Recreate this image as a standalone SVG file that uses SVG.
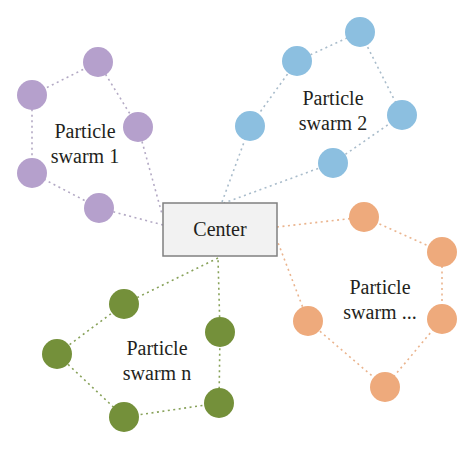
<svg xmlns="http://www.w3.org/2000/svg" width="474" height="450" viewBox="0 0 474 450">
<style>
.t{font-family:"Liberation Serif","Times New Roman",serif;font-size:20px;fill:#231f20;text-anchor:middle}
.lp{stroke:#b3a9c4;stroke-width:1.6;stroke-dasharray:2 3.5;fill:none}
.lb{stroke:#a9bccb;stroke-width:1.6;stroke-dasharray:2 3.5;fill:none}
.lo{stroke:#eab48e;stroke-width:1.6;stroke-dasharray:2 3.5;fill:none}
.lg{stroke:#88a25a;stroke-width:1.6;stroke-dasharray:2 3.5;fill:none}
.cp{fill:#b5a0cc}
.cb{fill:#8cbfe0}
.co{fill:#eeaa7c}
.cg{fill:#74903a}
</style>
<rect width="474" height="450" fill="#ffffff"/>
<g id="connectors">
  <polyline class="lp" points="163,225 99,208 32,173 32,95 98,62 138,127 162,214"/>
  <polyline class="lb" points="222,202 250,126 297,61 360,32 402,115 333,163 224,203"/>
  <polyline class="lo" points="277,227 364,217 442,252 442,319 385,387 308,321 277,240"/>
  <polyline class="lg" points="218,258 124,304 57,354 124,417 219,403 220,332 218,258"/>
</g>
<g id="center">
  <rect x="163" y="203" width="114" height="53" fill="#f2f2f2" stroke="#808080" stroke-width="1.5"/>
  <text class="t" x="220" y="236">Center</text>
</g>
<g id="swarm1">
  <circle class="cp" cx="98" cy="62" r="15"/>
  <circle class="cp" cx="32" cy="95" r="15"/>
  <circle class="cp" cx="138" cy="127" r="15"/>
  <circle class="cp" cx="32" cy="173" r="15"/>
  <circle class="cp" cx="99" cy="208" r="15"/>
  <text class="t" x="85" y="138">Particle</text>
  <text class="t" x="85" y="163">swarm 1</text>
</g>
<g id="swarm2">
  <circle class="cb" cx="360" cy="32" r="15"/>
  <circle class="cb" cx="297" cy="61" r="15"/>
  <circle class="cb" cx="250" cy="126" r="15"/>
  <circle class="cb" cx="402" cy="115" r="15"/>
  <circle class="cb" cx="333" cy="163" r="15"/>
  <text class="t" x="333" y="105">Particle</text>
  <text class="t" x="333" y="130">swarm 2</text>
</g>
<g id="swarm3">
  <circle class="co" cx="364" cy="217" r="15"/>
  <circle class="co" cx="442" cy="252" r="15"/>
  <circle class="co" cx="442" cy="319" r="15"/>
  <circle class="co" cx="385" cy="387" r="15"/>
  <circle class="co" cx="308" cy="321" r="15"/>
  <text class="t" x="380" y="294">Particle</text>
  <text class="t" x="380" y="319">swarm ...</text>
</g>
<g id="swarmn">
  <circle class="cg" cx="124" cy="304" r="15"/>
  <circle class="cg" cx="57" cy="354" r="15"/>
  <circle class="cg" cx="220" cy="332" r="15"/>
  <circle class="cg" cx="219" cy="403" r="15"/>
  <circle class="cg" cx="124" cy="417" r="15"/>
  <text class="t" x="157" y="355">Particle</text>
  <text class="t" x="157" y="380">swarm n</text>
</g>
</svg>
